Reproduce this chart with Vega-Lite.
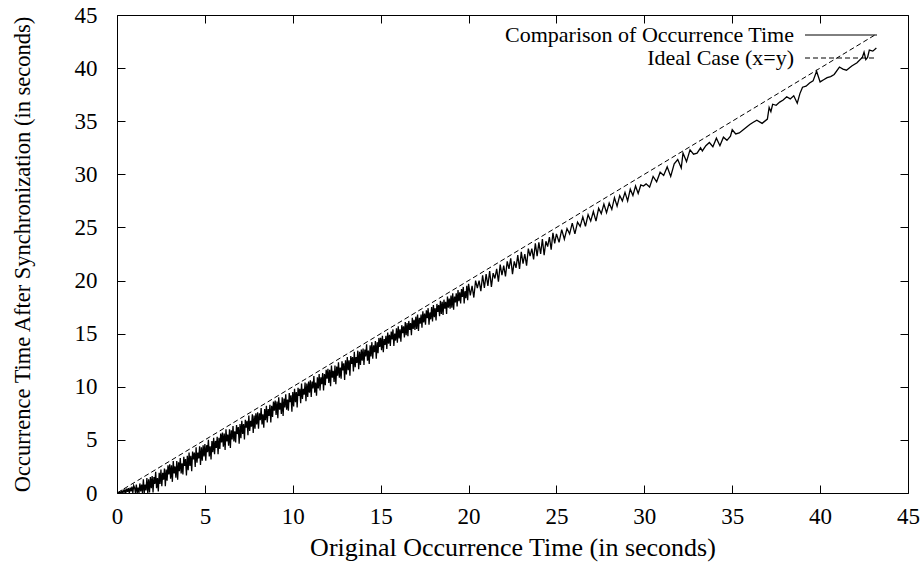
{
  "$schema": "https://vega.github.io/schema/vega-lite/v6.json",
  "width": 791,
  "height": 478,
  "autosize": {"type": "none"},
  "padding": {"left": 117, "top": 15, "right": 16, "bottom": 74},
  "background": "white",
  "config": {
    "font": "Liberation Serif",
    "view": {"stroke": "black", "strokeWidth": 1},
    "axis": {
      "labelFont": "Liberation Serif",
      "titleFont": "Liberation Serif",
      "labelFontSize": 23,
      "titleFontSize": 26,
      "titleFontWeight": "normal",
      "labelColor": "black",
      "titleColor": "black",
      "tickColor": "black",
      "tickSize": -8,
      "domain": false,
      "grid": false,
      "labelFlush": false,
      "labelOverlap": false,
      "labelBound": false
    },
    "legend": {
      "orient": "none",
      "legendX": 713,
      "symbolType": "M-3.6,0H3.6",
      "symbolSize": 400,
      "symbolStrokeWidth": 1,
      "symbolStrokeColor": "black",
      "symbolFillColor": "transparent",
      "labelFont": "Liberation Serif",
      "labelFontSize": 22,
      "labelColor": "black",
      "labelAlign": "right",
      "labelOffset": -58,
      "padding": 0,
      "labelLimit": 0
    }
  },
  "datasets": {
    "measured": [
      {"x":0,"y":0},{"x":0.05,"y":0.03},{"x":0.1,"y":0},{"x":0.15,"y":0.1},{"x":0.2,"y":0},{"x":0.25,"y":0.18},{"x":0.3,"y":0},{"x":0.35,"y":0.25},{"x":0.4,"y":0.05},{"x":0.45,"y":0.3},
      {"x":0.5,"y":0},{"x":0.55,"y":0.4},{"x":0.6,"y":0.1},{"x":0.65,"y":0.45},{"x":0.7,"y":0},{"x":0.75,"y":0.5},{"x":0.8,"y":0.15},{"x":0.85,"y":0.6},{"x":0.9,"y":0},{"x":0.95,"y":0.7},
      {"x":1.0,"y":0.5},{"x":1.05,"y":0},{"x":1.1,"y":0.8},{"x":1.15,"y":0},{"x":1.2,"y":0.5},{"x":1.25,"y":0},{"x":1.3,"y":0.9},{"x":1.35,"y":0.15},{"x":1.4,"y":0.8},{"x":1.45,"y":0},
      {"x":1.5,"y":1.3},{"x":1.55,"y":0},{"x":1.6,"y":0.8},{"x":1.65,"y":0.25},{"x":1.7,"y":1.4},{"x":1.75,"y":0},{"x":1.8,"y":1.3},{"x":1.85,"y":0.05},{"x":1.9,"y":1.5},{"x":1.95,"y":0.45},
      {"x":2.0,"y":1.6},{"x":2.05,"y":0.05},{"x":2.1,"y":1.5},{"x":2.15,"y":0.85},{"x":2.2,"y":2.0},{"x":2.25,"y":0.45},{"x":2.3,"y":1.4},{"x":2.35,"y":0.15},{"x":2.4,"y":1.9},{"x":2.45,"y":0.85},
      {"x":2.5,"y":2.2},{"x":2.55,"y":0.65},{"x":2.6,"y":1.9},{"x":2.65,"y":1.25},{"x":2.7,"y":2.3},{"x":2.75,"y":0.65},{"x":2.8,"y":2.2},{"x":2.85,"y":1.15},{"x":2.9,"y":2.6},{"x":2.95,"y":1.75},
      {"x":3.0,"y":2.7},{"x":3.05,"y":1.35},{"x":3.1,"y":2.6},{"x":3.15,"y":1.05},{"x":3.2,"y":3.0},{"x":3.25,"y":1.85},{"x":3.3,"y":2.5},{"x":3.35,"y":1.45},{"x":3.4,"y":3.0},{"x":3.45,"y":1.25},
      {"x":3.5,"y":2.9},{"x":3.55,"y":2.05},{"x":3.6,"y":3.3},{"x":3.65,"y":1.85},{"x":3.7,"y":2.8},{"x":3.75,"y":1.75},{"x":3.8,"y":3.4},{"x":3.85,"y":2.55},{"x":3.9,"y":3.2},{"x":3.95,"y":1.65},
      {"x":4.0,"y":3.5},{"x":4.05,"y":2.15},{"x":4.1,"y":3.8},{"x":4.15,"y":2.55},{"x":4.2,"y":3.5},{"x":4.25,"y":2.05},{"x":4.3,"y":3.9},{"x":4.35,"y":3.15},{"x":4.4,"y":3.8},{"x":4.45,"y":2.45},
      {"x":4.5,"y":4.3},{"x":4.55,"y":2.85},{"x":4.6,"y":3.8},{"x":4.65,"y":3.25},{"x":4.7,"y":4.4},{"x":4.75,"y":2.65},{"x":4.8,"y":4.3},{"x":4.85,"y":3.05},{"x":4.9,"y":4.5},{"x":4.95,"y":3.45},
      {"x":5.0,"y":4.6},{"x":5.05,"y":3.05},{"x":5.1,"y":4.5},{"x":5.15,"y":3.85},{"x":5.2,"y":5.0},{"x":5.25,"y":3.45},{"x":5.3,"y":4.4},{"x":5.35,"y":3.15},{"x":5.4,"y":4.9},{"x":5.45,"y":3.85},
      {"x":5.5,"y":5.2},{"x":5.55,"y":3.65},{"x":5.6,"y":4.9},{"x":5.65,"y":4.25},{"x":5.7,"y":5.3},{"x":5.75,"y":3.65},{"x":5.8,"y":5.2},{"x":5.85,"y":4.15},{"x":5.9,"y":5.6},{"x":5.95,"y":4.75},
      {"x":6.0,"y":5.7},{"x":6.05,"y":4.35},{"x":6.1,"y":5.6},{"x":6.15,"y":4.05},{"x":6.2,"y":6.0},{"x":6.25,"y":4.85},{"x":6.3,"y":5.5},{"x":6.35,"y":4.45},{"x":6.4,"y":6.0},{"x":6.45,"y":4.25},
      {"x":6.5,"y":5.9},{"x":6.55,"y":5.05},{"x":6.6,"y":6.3},{"x":6.65,"y":4.85},{"x":6.7,"y":5.8},{"x":6.75,"y":4.75},{"x":6.8,"y":6.4},{"x":6.85,"y":5.55},{"x":6.9,"y":6.2},{"x":6.95,"y":4.65},
      {"x":7.0,"y":6.5},{"x":7.05,"y":5.15},{"x":7.1,"y":6.8},{"x":7.15,"y":5.55},{"x":7.2,"y":6.5},{"x":7.25,"y":5.05},{"x":7.3,"y":6.9},{"x":7.35,"y":6.15},{"x":7.4,"y":6.8},{"x":7.45,"y":5.45},
      {"x":7.5,"y":7.3},{"x":7.55,"y":5.85},{"x":7.6,"y":6.8},{"x":7.65,"y":6.25},{"x":7.7,"y":7.4},{"x":7.75,"y":5.65},{"x":7.8,"y":7.3},{"x":7.85,"y":6.05},{"x":7.9,"y":7.5},{"x":7.95,"y":6.45},
      {"x":8.0,"y":7.6},{"x":8.05,"y":6.05},{"x":8.1,"y":7.5},{"x":8.15,"y":6.85},{"x":8.2,"y":8.0},{"x":8.25,"y":6.45},{"x":8.3,"y":7.4},{"x":8.35,"y":6.15},{"x":8.4,"y":7.9},{"x":8.45,"y":6.85},
      {"x":8.5,"y":8.2},{"x":8.55,"y":6.65},{"x":8.6,"y":7.9},{"x":8.65,"y":7.25},{"x":8.7,"y":8.3},{"x":8.75,"y":6.65},{"x":8.8,"y":8.2},{"x":8.85,"y":7.15},{"x":8.9,"y":8.6},{"x":8.95,"y":7.75},
      {"x":9.0,"y":8.7},{"x":9.05,"y":7.35},{"x":9.1,"y":8.6},{"x":9.15,"y":7.05},{"x":9.2,"y":9.0},{"x":9.25,"y":7.85},{"x":9.3,"y":8.5},{"x":9.35,"y":7.45},{"x":9.4,"y":9.0},{"x":9.45,"y":7.25},
      {"x":9.5,"y":8.9},{"x":9.55,"y":8.05},{"x":9.6,"y":9.3},{"x":9.65,"y":7.85},{"x":9.7,"y":8.8},{"x":9.75,"y":7.75},{"x":9.8,"y":9.4},{"x":9.85,"y":8.55},{"x":9.9,"y":9.2},{"x":9.95,"y":7.65},
      {"x":10.0,"y":9.5},{"x":10.05,"y":8.15},{"x":10.1,"y":9.8},{"x":10.15,"y":8.55},{"x":10.2,"y":9.5},{"x":10.25,"y":8.05},{"x":10.3,"y":9.9},{"x":10.35,"y":9.15},{"x":10.4,"y":9.8},{"x":10.45,"y":8.45},
      {"x":10.5,"y":10.3},{"x":10.55,"y":8.85},{"x":10.6,"y":9.8},{"x":10.65,"y":9.25},{"x":10.7,"y":10.4},{"x":10.75,"y":8.65},{"x":10.8,"y":10.3},{"x":10.85,"y":9.05},{"x":10.9,"y":10.5},{"x":10.95,"y":9.45},
      {"x":11.0,"y":10.6},{"x":11.05,"y":9.05},{"x":11.1,"y":10.5},{"x":11.15,"y":9.85},{"x":11.2,"y":11.0},{"x":11.25,"y":9.45},{"x":11.3,"y":10.4},{"x":11.35,"y":9.15},{"x":11.4,"y":10.9},{"x":11.45,"y":9.85},
      {"x":11.5,"y":11.2},{"x":11.55,"y":9.65},{"x":11.6,"y":10.9},{"x":11.65,"y":10.25},{"x":11.7,"y":11.3},{"x":11.75,"y":9.65},{"x":11.8,"y":11.2},{"x":11.85,"y":10.15},{"x":11.9,"y":11.6},{"x":11.95,"y":10.75},
      {"x":12.0,"y":11.7},{"x":12.05,"y":10.35},{"x":12.1,"y":11.6},{"x":12.15,"y":10.05},{"x":12.2,"y":12.0},{"x":12.25,"y":10.85},{"x":12.3,"y":11.5},{"x":12.35,"y":10.45},{"x":12.4,"y":12.0},{"x":12.45,"y":10.25},
      {"x":12.5,"y":11.9},{"x":12.55,"y":11.05},{"x":12.6,"y":12.3},{"x":12.65,"y":10.85},{"x":12.7,"y":11.8},{"x":12.75,"y":10.75},{"x":12.8,"y":12.4},{"x":12.85,"y":11.55},{"x":12.9,"y":12.2},{"x":12.95,"y":10.65},
      {"x":13.0,"y":12.5},{"x":13.05,"y":11.15},{"x":13.1,"y":12.8},{"x":13.15,"y":11.55},{"x":13.2,"y":12.5},{"x":13.25,"y":11.05},{"x":13.3,"y":12.9},{"x":13.35,"y":12.15},{"x":13.4,"y":12.8},{"x":13.45,"y":11.45},
      {"x":13.5,"y":13.3},{"x":13.55,"y":11.85},{"x":13.6,"y":12.8},{"x":13.65,"y":12.25},{"x":13.7,"y":13.4},{"x":13.75,"y":11.65},{"x":13.8,"y":13.3},{"x":13.85,"y":12.05},{"x":13.9,"y":13.5},{"x":13.95,"y":12.45},
      {"x":14.0,"y":13.6},{"x":14.05,"y":12.05},{"x":14.1,"y":13.5},{"x":14.15,"y":12.85},{"x":14.2,"y":14.0},{"x":14.25,"y":12.45},{"x":14.3,"y":13.4},{"x":14.35,"y":12.15},{"x":14.4,"y":13.9},{"x":14.45,"y":12.85},
      {"x":14.5,"y":14.2},{"x":14.55,"y":12.65},{"x":14.6,"y":13.9},{"x":14.65,"y":13.25},{"x":14.7,"y":14.3},{"x":14.75,"y":12.65},{"x":14.8,"y":14.2},{"x":14.85,"y":13.15},{"x":14.9,"y":14.6},{"x":14.95,"y":13.75},
      {"x":15.0,"y":14.6},{"x":15.05,"y":13.45},{"x":15.1,"y":14.8},{"x":15.15,"y":13.25},{"x":15.2,"y":14.5},{"x":15.25,"y":13.95},{"x":15.3,"y":14.8},{"x":15.35,"y":13.55},{"x":15.4,"y":15.1},{"x":15.45,"y":14.05},
      {"x":15.5,"y":14.9},{"x":15.55,"y":13.85},{"x":15.6,"y":15.2},{"x":15.65,"y":14.45},{"x":15.7,"y":15.4},{"x":15.75,"y":13.85},{"x":15.8,"y":15.0},{"x":15.85,"y":14.35},{"x":15.9,"y":15.5},{"x":15.95,"y":14.15},
      {"x":16.0,"y":15.7},{"x":16.05,"y":14.55},{"x":16.1,"y":15.4},{"x":16.15,"y":14.25},{"x":16.2,"y":15.8},{"x":16.25,"y":15.05},{"x":16.3,"y":15.7},{"x":16.35,"y":14.65},{"x":16.4,"y":16.1},{"x":16.45,"y":14.85},
      {"x":16.5,"y":16.0},{"x":16.55,"y":14.75},{"x":16.6,"y":16.2},{"x":16.65,"y":15.35},{"x":16.7,"y":16.0},{"x":16.75,"y":14.85},{"x":16.8,"y":16.5},{"x":16.85,"y":15.45},{"x":16.9,"y":16.3},{"x":16.95,"y":15.35},
      {"x":17.0,"y":16.6},{"x":17.05,"y":15.45},{"x":17.1,"y":16.8},{"x":17.15,"y":15.25},{"x":17.2,"y":16.5},{"x":17.25,"y":15.95},{"x":17.3,"y":16.8},{"x":17.35,"y":15.55},{"x":17.4,"y":17.1},{"x":17.45,"y":16.05},
      {"x":17.5,"y":16.9},{"x":17.55,"y":15.85},{"x":17.6,"y":17.2},{"x":17.65,"y":16.45},{"x":17.7,"y":17.4},{"x":17.75,"y":15.85},{"x":17.8,"y":17.0},{"x":17.85,"y":16.35},{"x":17.9,"y":17.5},{"x":17.95,"y":16.15},
      {"x":18.0,"y":17.7},{"x":18.05,"y":16.55},{"x":18.1,"y":17.4},{"x":18.15,"y":16.25},{"x":18.2,"y":17.8},{"x":18.25,"y":17.05},{"x":18.3,"y":17.7},{"x":18.35,"y":16.65},{"x":18.4,"y":18.1},{"x":18.45,"y":16.85},
      {"x":18.5,"y":18.0},{"x":18.55,"y":16.75},{"x":18.6,"y":18.2},{"x":18.65,"y":17.35},{"x":18.7,"y":18.0},{"x":18.75,"y":16.85},{"x":18.8,"y":18.5},{"x":18.85,"y":17.45},{"x":18.9,"y":18.3},{"x":18.95,"y":17.35},
      {"x":19.0,"y":18.6},{"x":19.05,"y":17.45},{"x":19.1,"y":18.8},{"x":19.15,"y":17.25},{"x":19.2,"y":18.5},{"x":19.25,"y":17.95},{"x":19.3,"y":18.8},{"x":19.35,"y":17.55},{"x":19.4,"y":19.1},{"x":19.45,"y":18.05},
      {"x":19.5,"y":18.9},{"x":19.55,"y":17.85},{"x":19.6,"y":19.2},{"x":19.65,"y":18.45},{"x":19.7,"y":19.4},{"x":19.75,"y":17.85},{"x":19.8,"y":19.0},{"x":19.85,"y":18.35},{"x":19.9,"y":19.5},{"x":19.95,"y":18.15},
      {"x":20.0,"y":19.7},{"x":20.1,"y":18.6},{"x":20.2,"y":19.5},{"x":20.3,"y":18.4},{"x":20.4,"y":20.0},{"x":20.5,"y":19.3},{"x":20.6,"y":20.0},{"x":20.7,"y":19.0},{"x":20.8,"y":20.5},{"x":20.9,"y":19.3},
      {"x":21.0,"y":20.6},{"x":21.1,"y":19.5},{"x":21.2,"y":20.9},{"x":21.3,"y":19.4},{"x":21.4,"y":20.7},{"x":21.5,"y":20.2},{"x":21.6,"y":21.1},{"x":21.7,"y":19.9},{"x":21.8,"y":21.5},{"x":21.9,"y":20.5},
      {"x":22.0,"y":21.4},{"x":22.1,"y":20.4},{"x":22.2,"y":21.8},{"x":22.3,"y":21.1},{"x":22.4,"y":22.1},{"x":22.5,"y":20.6},{"x":22.6,"y":21.8},{"x":22.7,"y":21.2},{"x":22.8,"y":22.4},{"x":22.9,"y":21.1},
      {"x":23.0,"y":22.7},{"x":23.1,"y":21.6},{"x":23.2,"y":22.5},{"x":23.3,"y":21.4},{"x":23.4,"y":23.0},{"x":23.5,"y":22.3},{"x":23.6,"y":23.0},{"x":23.7,"y":22.0},{"x":23.8,"y":23.5},{"x":23.9,"y":22.3},
      {"x":24.0,"y":23.6},{"x":24.1,"y":22.5},{"x":24.2,"y":23.9},{"x":24.3,"y":22.4},{"x":24.4,"y":23.7},{"x":24.5,"y":23.2},{"x":24.6,"y":24.1},{"x":24.7,"y":22.9},{"x":24.8,"y":24.5},{"x":24.9,"y":23.5},
      {"x":25.0,"y":24.4},{"x":25.15,"y":23.6},{"x":25.3,"y":24.8},{"x":25.45,"y":23.9},{"x":25.6,"y":24.9},{"x":25.75,"y":24.4},{"x":25.9,"y":25.4},{"x":26.05,"y":24.4},{"x":26.2,"y":25.5},{"x":26.35,"y":25.1},
      {"x":26.5,"y":26.0},{"x":26.65,"y":25.1},{"x":26.8,"y":26.2},{"x":26.95,"y":25.6},{"x":27.1,"y":26.5},{"x":27.25,"y":25.6},{"x":27.4,"y":26.8},{"x":27.55,"y":26.3},{"x":27.7,"y":27.2},{"x":27.85,"y":26.4},
      {"x":28.0,"y":27.3},{"x":28.15,"y":26.7},{"x":28.3,"y":27.8},{"x":28.45,"y":27.0},{"x":28.6,"y":28.0},{"x":28.75,"y":27.5},{"x":28.9,"y":28.3},{"x":29.05,"y":27.5},{"x":29.2,"y":28.6},{"x":29.35,"y":28.0},
      {"x":29.5,"y":28.9},{"x":29.65,"y":28.2},{"x":29.8,"y":29.0},{"x":29.95,"y":28.9},
      {"x":30.1,"y":29.1},{"x":30.3,"y":28.8},{"x":30.5,"y":29.8},{"x":30.7,"y":29.3},{"x":30.9,"y":30.2},{"x":31.1,"y":29.9},{"x":31.3,"y":30.7},{"x":31.5,"y":29.8},{"x":31.7,"y":31.0},{"x":31.9,"y":31.4},
      {"x":32.1,"y":30.6},{"x":32.2,"y":32.0},{"x":32.4,"y":31.2},{"x":32.6,"y":32.3},{"x":32.8,"y":31.9},{"x":33.0,"y":32.0},{"x":33.2,"y":32.5},{"x":33.3,"y":32.2},{"x":33.5,"y":32.7},{"x":33.7,"y":33.0},
      {"x":33.9,"y":32.6},{"x":34.1,"y":33.4},{"x":34.3,"y":32.7},{"x":34.5,"y":33.5},{"x":34.7,"y":33.2},{"x":34.9,"y":33.6},{"x":35.0,"y":34.2},{"x":35.2,"y":33.8},{"x":35.4,"y":33.9},{"x":35.7,"y":34.3},
      {"x":36.0,"y":34.7},{"x":36.2,"y":34.9},{"x":36.4,"y":35.1},{"x":36.7,"y":34.8},{"x":37.0,"y":35.2},{"x":37.1,"y":36.3},{"x":37.2,"y":35.9},{"x":37.3,"y":36.6},{"x":37.5,"y":36.5},{"x":37.7,"y":36.8},
      {"x":37.9,"y":37.0},{"x":38.1,"y":37.3},{"x":38.3,"y":37.1},{"x":38.5,"y":37.4},{"x":38.7,"y":36.7},{"x":38.85,"y":37.6},{"x":39.0,"y":38.2},{"x":39.2,"y":38.3},{"x":39.4,"y":38.6},{"x":39.6,"y":38.8},
      {"x":39.8,"y":39.7},{"x":40.0,"y":38.7},{"x":40.2,"y":38.9},{"x":40.4,"y":39.1},{"x":40.6,"y":39.2},{"x":40.8,"y":39.4},{"x":41.1,"y":40.1},{"x":41.3,"y":39.9},{"x":41.5,"y":39.8},{"x":41.8,"y":40.2},
      {"x":42.1,"y":40.5},{"x":42.4,"y":41.0},{"x":42.5,"y":41.5},{"x":42.6,"y":40.8},{"x":42.7,"y":41.0},{"x":42.8,"y":41.7},{"x":43.0,"y":41.6},{"x":43.2,"y":41.9}
    ],
    "ideal": [
      {"x":0,"y":0},{"x":43.2,"y":43.2}
    ]
  },
  "resolve": {"axis": {"x": "independent", "y": "independent"}},
  "layer": [
    {
      "data": {"name": "measured"},
      "mark": {"type": "line", "strokeWidth": 1.3, "clip": true},
      "encoding": {
        "x": {"field": "x", "type": "quantitative",
          "scale": {"domain": [0, 45], "nice": false, "zero": false},
          "axis": {"orient": "bottom", "values": [0,5,10,15,20,25,30,35,40,45], "labelPadding": 20, "title": "Original Occurrence Time (in seconds)", "titlePadding": 6}},
        "y": {"field": "y", "type": "quantitative",
          "scale": {"domain": [0, 45], "nice": false, "zero": false},
          "axis": {"orient": "left", "values": [0,5,10,15,20,25,30,35,40,45], "labelPadding": 28, "title": "Occurrence Time After Synchronization (in seconds)", "titleFontSize": 22.5, "titlePadding": 40}},
        "color": {"datum": "Comparison of Occurrence Time",
          "scale": {"range": ["black"]},
          "legend": {"title": null, "legendY": 9}}
      }
    },
    {
      "data": {"name": "ideal"},
      "mark": {"type": "line", "color": "black", "strokeWidth": 1, "clip": true},
      "encoding": {
        "x": {"field": "x", "type": "quantitative",
          "axis": {"orient": "top", "values": [0,5,10,15,20,25,30,35,40,45], "labels": false, "title": null}},
        "y": {"field": "y", "type": "quantitative",
          "axis": {"orient": "right", "values": [0,5,10,15,20,25,30,35,40,45], "labels": false, "title": null}},
        "strokeDash": {"datum": "Ideal Case (x=y)",
          "scale": {"range": [[5, 3]]},
          "legend": {"title": null, "legendY": 32}}
      }
    }
  ]
}
